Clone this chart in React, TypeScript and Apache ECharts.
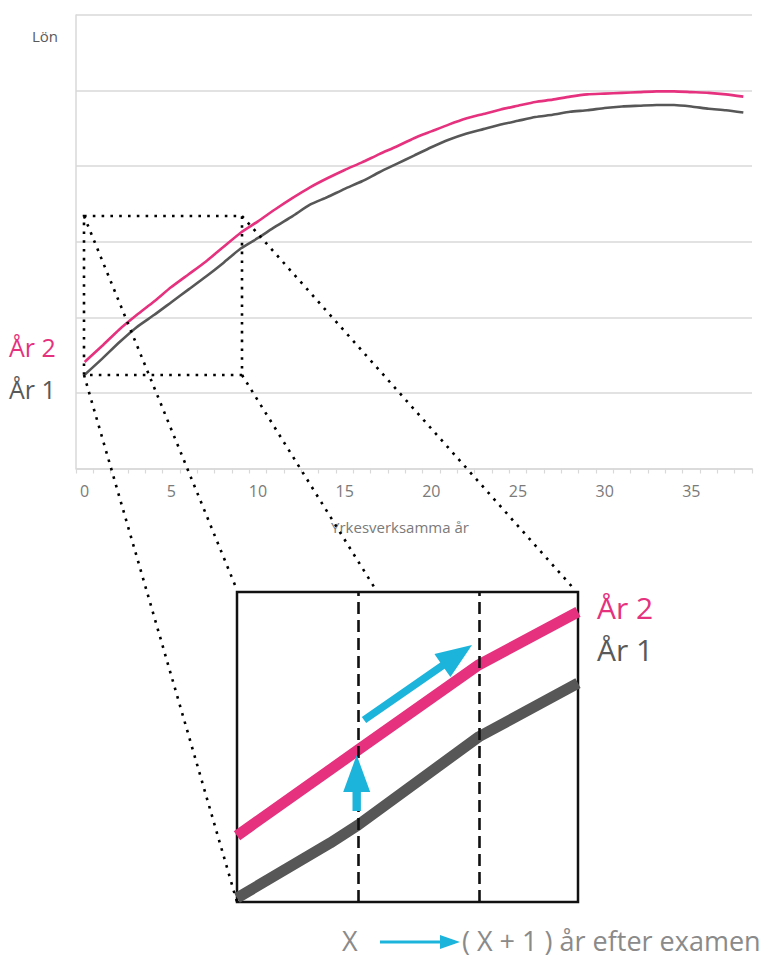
import React, { useEffect, useRef } from "react";
import * as echarts from "echarts";

// ---- Data ----
const years = [
  "0", "1", "2", "3", "4", "5", "6", "7", "8", "9",
  "10", "11", "12", "13", "14", "15", "16", "17", "18", "19",
  "20", "21", "22", "23", "24", "25", "26", "27", "28", "29",
  "30", "31", "32", "33", "34", "35", "36", "37", "38",
];

// Salary curve, year 2 after graduation (pink), arbitrary units
const salaryYear2 = [
  14.1, 16.2, 18.4, 20.3, 22.1, 24.0, 25.7, 27.4, 29.3, 31.2,
  32.7, 34.3, 35.8, 37.2, 38.4, 39.5, 40.5, 41.6, 42.6, 43.7,
  44.6, 45.5, 46.3, 46.9, 47.5, 48.0, 48.5, 48.8, 49.2, 49.5,
  49.6, 49.7, 49.8, 49.9, 49.9, 49.8, 49.7, 49.5, 49.2,
];

// Salary curve, year 1 after graduation (dark grey)
const salaryYear1 = [
  12.4, 14.5, 16.7, 18.7, 20.3, 22.0, 23.7, 25.4, 27.2, 29.1,
  30.5, 32.0, 33.4, 34.9, 35.9, 37.0, 38.0, 39.2, 40.3, 41.4,
  42.5, 43.5, 44.3, 44.9, 45.5, 46.0, 46.5, 46.8, 47.2, 47.4,
  47.7, 47.9, 48.0, 48.1, 48.1, 47.9, 47.6, 47.4, 47.1,
];

// Zoomed inset (schematic), x in inset units, y in inset units
const insetYear2 = [[0, 2.14], [1, 4.9], [2, 7.65], [2.82, 9.36]];
const insetYear1 = [[0, 0.13], [0.77, 1.9], [1, 2.48], [2, 5.33], [2.82, 7.06]];
const insetMarks = [1, 2];

const PINK = "#e5317e";
const DARK = "#575757";
const CYAN = "#1db4dc";
const GRIDC = "#d9d9d9";
const FONT = "'Open Sans', 'Noto Sans', sans-serif";

function arrowPoints(sx: number, sy: number, tx: number, ty: number, headLen: number, headHalf: number, shaftHalf: number) {
  const dx = tx - sx, dy = ty - sy;
  const L = Math.hypot(dx, dy);
  const ux = dx / L, uy = dy / L;
  const nx = -uy, ny = ux;
  const bx = tx - ux * headLen, by = ty - uy * headLen;
  return [
    [sx + nx * shaftHalf, sy + ny * shaftHalf],
    [bx + nx * shaftHalf, by + ny * shaftHalf],
    [bx + nx * headHalf, by + ny * headHalf],
    [tx, ty],
    [bx - nx * headHalf, by - ny * headHalf],
    [bx - nx * shaftHalf, by - ny * shaftHalf],
    [sx - nx * shaftHalf, sy - ny * shaftHalf],
  ];
}

const dotted = { stroke: "#000", lineWidth: 2.6, lineDash: [2.6, 6.2], fill: "transparent" };

function txt(text: string, x: number, y: number, size: number, color: string) {
  return {
    type: "text",
    x,
    y,
    z: 20,
    style: { text, fill: color, fontSize: size, fontFamily: FONT, align: "left", verticalAlign: "middle" },
  };
}

export default function App() {
  const ref = useRef<HTMLDivElement>(null);

  useEffect(() => {
    if (!ref.current) return;
    const chart = echarts.init(ref.current, undefined, { renderer: "svg" });
    const option: any = {
      animation: false,
      backgroundColor: "#ffffff",
      textStyle: { fontFamily: FONT },
      grid: [
        { left: 76, top: 15, width: 676, height: 453.5 },
        {
          left: 237, top: 592, width: 341, height: 310, show: true,
          borderColor: "#111", borderWidth: 2.5, backgroundColor: "transparent",
        },
      ],
      xAxis: [
        {
          type: "category", gridIndex: 0, data: years, boundaryGap: true,
          axisLine: { lineStyle: { color: GRIDC, width: 1.5 } },
          axisTick: { show: true, interval: 0, length: 5, lineStyle: { color: GRIDC, width: 1.2 } },
          axisLabel: { interval: 4, color: "#7a7a7a", fontSize: 16, margin: 14, fontFamily: FONT },
          name: "Yrkesverksamma år", nameLocation: "middle", nameGap: 51,
          nameTextStyle: { color: "#7a7a7a", fontSize: 15, fontFamily: FONT, padding: [0, 28, 0, 0] },
        },
        { type: "value", gridIndex: 1, min: 0, max: 2.82, show: false },
      ],
      yAxis: [
        {
          type: "value", gridIndex: 0, min: 0, max: 60, interval: 10,
          axisLabel: { show: false }, axisTick: { show: false },
          axisLine: { show: true, lineStyle: { color: GRIDC, width: 1.5 } },
          splitLine: { show: true, lineStyle: { color: GRIDC, width: 1.5 } },
        },
        { type: "value", gridIndex: 1, min: 0, max: 10, show: false },
      ],
      series: [
        {
          name: "År 1", type: "line", xAxisIndex: 0, yAxisIndex: 0, data: salaryYear1, smooth: 0.2,
          symbol: "none", lineStyle: { color: DARK, width: 2.6 }, itemStyle: { color: DARK },
        },
        {
          name: "År 2", type: "line", xAxisIndex: 0, yAxisIndex: 0, data: salaryYear2, smooth: 0.2,
          symbol: "none", lineStyle: { color: PINK, width: 2.6 }, itemStyle: { color: PINK },
        },
        {
          name: "År 1 (zoom)", type: "line", xAxisIndex: 1, yAxisIndex: 1, data: insetYear1,
          symbol: "none", lineStyle: { color: DARK, width: 11 }, itemStyle: { color: DARK },
        },
        {
          name: "År 2 (zoom)", type: "line", xAxisIndex: 1, yAxisIndex: 1, data: insetYear2,
          symbol: "none", lineStyle: { color: PINK, width: 11 }, itemStyle: { color: PINK },
          markLine: {
            silent: true, symbol: ["none", "none"], label: { show: false },
            lineStyle: { color: "#111", width: 2.6, type: [12, 6] },
            data: insetMarks.map((v) => ({ xAxis: v })),
          },
        },
      ],
      graphic: [
        txt("Lön", 32, 36, 15, "#595959"),
        txt("År 2", 9, 347, 25, PINK),
        txt("År 1", 9, 389, 25, "#595959"),
        txt("År 2", 597, 607, 30, PINK),
        txt("År 1", 597, 649, 30, "#595959"),
        // dotted zoom rectangle and connectors
        { type: "rect", z: 10, shape: { x: 84, y: 216, width: 158, height: 159 }, style: dotted },
        { type: "line", z: 10, shape: { x1: 84, y1: 375, x2: 237, y2: 902 }, style: dotted },
        { type: "line", z: 10, shape: { x1: 84, y1: 216, x2: 237, y2: 590 }, style: dotted },
        { type: "line", z: 10, shape: { x1: 242, y1: 375, x2: 376, y2: 590 }, style: dotted },
        { type: "line", z: 10, shape: { x1: 242, y1: 216, x2: 575, y2: 590 }, style: dotted },
        // cyan arrows in inset
        { type: "polygon", z: 15, shape: { points: arrowPoints(364, 720, 472, 645, 36, 14, 3.8) }, style: { fill: CYAN } },
        { type: "polygon", z: 15, shape: { points: arrowPoints(356.7, 811, 356.7, 755, 37, 13.5, 4.2) }, style: { fill: CYAN } },
        // caption
        txt("X", 342, 940, 27, "#8a8a8a"),
        { type: "polygon", z: 15, shape: { points: arrowPoints(380, 942, 460, 942, 20, 7, 1.6) }, style: { fill: CYAN } },
        txt("( X + 1 ) år efter examen", 462, 940, 27, "#8a8a8a"),
      ],
    };
    chart.setOption(option);
    return () => chart.dispose();
  }, []);

  return (
    <div
      ref={ref}
      style={{ position: "fixed", left: 0, top: 0, width: 774, height: 960, background: "#fff" }}
    />
  );
}
